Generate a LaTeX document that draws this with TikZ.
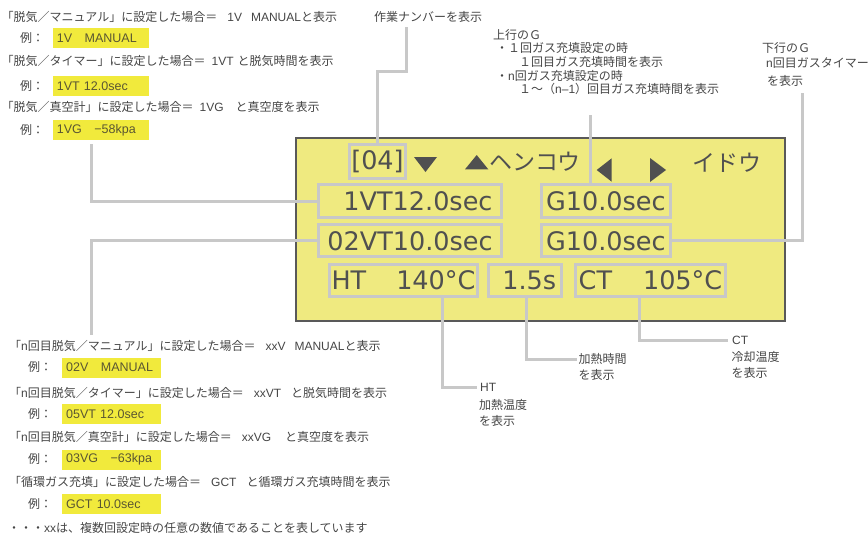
\documentclass[tikz,border=0pt]{standalone}
\usepackage{fontspec}
\setmainfont{Noto Sans CJK JP}
\newfontfamily\dvfont{DejaVu Sans}
\newfontfamily\latfont{Liberation Sans}
\newcommand\lsf[1]{{\latfont #1}}
\definecolor{txt}{HTML}{454545}
\definecolor{dtxt}{HTML}{505050}
\definecolor{lcdfill}{HTML}{EFEA80}
\definecolor{lcdline}{HTML}{595959}
\definecolor{conncol}{HTML}{C8C8C8}
\definecolor{hl}{HTML}{F1EA3C}
\definecolor{hltxt}{HTML}{5A5632}
\begin{document}
\begin{tikzpicture}[x=1pt,y=-1pt,
  lbl/.style={anchor=west, inner sep=0pt, text=txt, font=\fontsize{12}{14}\selectfont},
  hlbox/.style={fill=hl, anchor=north west, inner xsep=4pt, inner ysep=0pt, align=left, minimum height=20pt, text=hltxt, font=\latfont\fontsize{12.5}{14}\selectfont},
  dbox/.style={draw=conncol, line width=3pt, inner sep=0pt, text=dtxt, font=\dvfont\fontsize{25.5}{28}\selectfont},
  conline/.style={draw=conncol, line width=3pt},
  kata/.style={anchor=west, inner sep=0pt, text=dtxt, font=\fontsize{23}{26}\selectfont},
  tri/.style={fill=dtxt, draw=none}
]
\useasboundingbox (0,0) rectangle (868,535);

% ---- LCD panel ----
\node[draw=lcdline, line width=2pt, fill=lcdfill, minimum width=488.7pt, minimum height=183.6pt, inner sep=0pt] (lcd) at (540.35,229.5) {};

\node[dbox, minimum width=56.6pt, minimum height=34.3pt] (b04) at (377.5,161.3) {[04]};
\node[dbox, minimum width=182.4pt, minimum height=33.6pt] (bVT1) at (410,201) {\hspace{16pt}1VT12.0sec};
\node[dbox, minimum width=182.4pt, minimum height=32pt] (bVT2) at (410,240.8) {02VT10.0sec};
\node[dbox, minimum width=128.7pt, minimum height=33.6pt] (bG1) at (605.85,201) {G10.0sec};
\node[dbox, minimum width=128.7pt, minimum height=32pt] (bG2) at (605.85,240.8) {G10.0sec};
\node[dbox, minimum width=148.6pt, minimum height=32.6pt] (bHT) at (403.5,280.5) {HT\hspace{30pt}140°C};
\node[dbox, minimum width=73pt, minimum height=32.6pt] (b15) at (524.7,280.5) {\hspace{9pt}1.5s};
\node[dbox, minimum width=149.4pt, minimum height=32.6pt] (bCT) at (650.5,280.5) {CT\hspace{31pt}105°C};

\fill[tri] (414,157) -- (437,157) -- (425.5,172) -- cycle;
\fill[tri] (465,169.3) -- (488.3,169.3) -- (476.7,155) -- cycle;
\fill[tri] (611.7,158.3) -- (611.7,181.7) -- (596.7,170) -- cycle;
\fill[tri] (650,158) -- (650,182) -- (666,170) -- cycle;
\node[kata] (henkou) at (489,162) {ヘンコウ};
\node[kata] (idou) at (692,163) {イドウ};

% ---- top-left texts ----
\node[lbl] (t1) at (1.5,17) {「脱気／マニュアル」に設定した場合＝\hspace{10pt}\lsf{1V\hspace{9pt}MANUAL}と表示};
\node[lbl] (r1) at (20,38.3) {例：};
\node[hlbox, minimum width=95.6pt, text width=87.6pt] (e1) at (52.7,28.3) {1V\hspace{1em}MANUAL};
\node[lbl] (t2) at (1.5,61) {「脱気／タイマー」に設定した場合＝\hspace{6pt}\lsf{1VT}\hspace{4pt}と脱気時間を表示};
\node[lbl] (r2) at (20,85.5) {例：};
\node[hlbox, minimum width=95.6pt, text width=87.6pt] (e2) at (52.7,75.5) {1VT 12.0sec};
\node[lbl] (t3) at (1.5,107) {「脱気／真空計」に設定した場合＝\hspace{6pt}\lsf{1VG}\hspace{12pt}と真空度を表示};
\node[lbl] (r3) at (20,130) {例：};
\node[hlbox, minimum width=95.6pt, text width=87.6pt] (e3) at (52.7,120) {1VG\hspace{1em}−58kpa};

% ---- top labels ----
\node[lbl] (l04) at (374,17) {作業ナンバーを表示};
\node[lbl] (g1a) at (493,35) {上行のＧ};
\node[lbl] (g1b) at (496,48.3) {・１回ガス充填設定の時};
\node[lbl] (g1c) at (519,62.3) {１回目ガス充填時間を表示};
\node[lbl] (g1d) at (496,76) {・\lsf{n}回ガス充填設定の時};
\node[lbl] (g1e) at (519,89.3) {１～（\lsf{n–1}）回目ガス充填時間を表示};
\node[lbl] (g2a) at (762,48.3) {下行のＧ};
\node[lbl] (g2b) at (766,62.7) {\lsf{n}回目ガスタイマー};
\node[lbl] (g2c) at (767,81) {を表示};

% ---- bottom labels ----
\node[lbl] (ht1) at (480,387.3) {\lsf{HT}};
\node[lbl] (ht2) at (479,405) {加熱温度};
\node[lbl] (ht3) at (479,421) {を表示};
\node[lbl] (kt1) at (578.5,359) {加熱時間};
\node[lbl] (kt2) at (578.5,375) {を表示};
\node[lbl] (ct1) at (732,340) {\lsf{CT}};
\node[lbl] (ct2) at (731.5,356.7) {冷却温度};
\node[lbl] (ct3) at (731.5,373.3) {を表示};

% ---- bottom-left texts ----
\node[lbl] (s1) at (9,346) {「\lsf{n}回目脱気／マニュアル」に設定した場合＝\hspace{10pt}\lsf{xxV\hspace{9pt}MANUAL}と表示};
\node[lbl] (q1) at (28,367.3) {例：};
\node[hlbox, minimum width=99pt, text width=91pt] (f1) at (62,357.3) {02V\hspace{1em}MANUAL};
\node[lbl] (s2) at (9,392.7) {「\lsf{n}回目脱気／タイマー」に設定した場合＝\hspace{10pt}\lsf{xxVT}\hspace{10pt}と脱気時間を表示};
\node[lbl] (q2) at (28,413.7) {例：};
\node[hlbox, minimum width=99pt, text width=91pt] (f2) at (62,403.5) {05VT 12.0sec};
\node[lbl] (s3) at (9,437.3) {「\lsf{n}回目脱気／真空計」に設定した場合＝\hspace{10pt}\lsf{xxVG}\hspace{14pt}と真空度を表示};
\node[lbl] (q3) at (28,459.3) {例：};
\node[hlbox, minimum width=99pt, text width=91pt] (f3) at (62,449.3) {03VG\hspace{1em}−63kpa};
\node[lbl] (s4) at (9,482.3) {「循環ガス充填」に設定した場合＝\hspace{10pt}\lsf{GCT}\hspace{10pt}と循環ガス充填時間を表示};
\node[lbl] (q4) at (28,504) {例：};
\node[hlbox, minimum width=99pt, text width=91pt] (f4) at (62,494) {GCT 10.0sec};
\node[lbl] (s5) at (8,528.3) {・・・\lsf{xx}は、複数回設定時の任意の数値であることを表しています};

% ---- connectors ----
\coordinate (k04) at (406.7,71.7);
\draw[conline, shorten >=4pt] (b04.north) |- (k04) -- (k04 |- l04.south);
\coordinate (kG1) at (590,115);
\draw[conline] ([xshift=-15.85pt]bG1.north) -- (kG1);
\coordinate (kG2) at (802,92.7);
\draw[conline] (bG2.east) -| (kG2);
\coordinate (kL1) at (91.7,144);
\draw[conline] (bVT1.west) -| (kL1);
\coordinate (kL2) at (91.7,335);
\draw[conline] (bVT2.west) -| (kL2);
\coordinate (kHT) at (476.7,387.3);
\draw[conline] ([xshift=38.5pt]bHT.south) |- (kHT);
\coordinate (k15) at (576.7,359);
\draw[conline] ([xshift=1.3pt]b15.south) |- (k15);
\coordinate (kCT) at (728.3,340);
\draw[conline] ([xshift=-11.5pt]bCT.south) |- (kCT);
\end{tikzpicture}
\end{document}
